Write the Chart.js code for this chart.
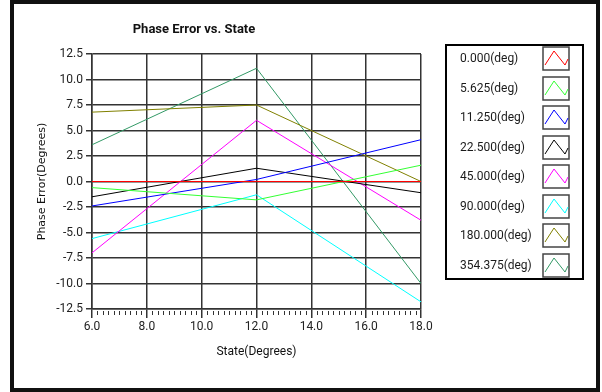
<!DOCTYPE html>
<html>
<head>
<meta charset="utf-8">
<script src="https://cdn.jsdelivr.net/npm/chart.js@4/dist/chart.umd.min.js"></script>
<style>
  html, body { margin: 0; padding: 0; background: #fff; }
  canvas { display: block; }
</style>
</head>
<body>
<canvas id="phaseChart" width="602" height="392"></canvas>
<script>
// state (x) positions
const states = [6.0, 12.0, 18.0];

// phase error per state, one array per phase setting
const ph0000 = [0.0, 0.0, 0.0];
const ph5625 = [-0.6, -1.8, 1.6];
const ph11250 = [-2.4, 0.2, 4.1];
const ph22500 = [-1.5, 1.3, -1.1];
const ph45000 = [-7.0, 6.0, -3.8];
const ph90000 = [-5.6, -1.3, -11.8];
const ph180000 = [6.8, 7.5, 0.0];
const ph354375 = [3.6, 11.1, -10.0];

const seriesNames = ["0.000(deg)", "5.625(deg)", "11.250(deg)", "22.500(deg)",
  "45.000(deg)", "90.000(deg)", "180.000(deg)", "354.375(deg)"];
const seriesValues = [ph0000, ph5625, ph11250, ph22500, ph45000, ph90000, ph180000, ph354375];
const seriesColors = ["#ff0000", "#33ff33", "#0000ff", "#000000",
  "#ff00ff", "#00ffff", "#808000", "#339966"];

const datasets = seriesNames.map((name, i) => ({
  label: name,
  data: states.map((s, j) => ({ x: s, y: seriesValues[i][j] })),
  borderColor: seriesColors[i],
  borderWidth: 1,
  pointRadius: 0,
  tension: 0,
  fill: false
}));

// white page, outer frame, title, minor ticks and the boxed legend
const decorations = {
  id: "decorations",
  beforeDraw(chart) {
    const ctx = chart.ctx;
    ctx.save();
    ctx.fillStyle = "#fff";
    ctx.fillRect(0, 0, chart.width, chart.height);
    ctx.restore();
  },
  afterDraw(chart) {
    const ctx = chart.ctx;
    const xs = chart.scales.x;
    const area = chart.chartArea;
    ctx.save();

    // outer frame
    ctx.strokeStyle = "#111";
    ctx.lineWidth = 4;
    ctx.strokeRect(12, 2, 586, 388);

    // title
    ctx.fillStyle = "#111";
    ctx.font = "bold 13px Roboto";
    ctx.textAlign = "center";
    ctx.textBaseline = "middle";
    ctx.fillText("Phase Error vs. State", 194, 30);

    // minor ticks on the x axis
    ctx.strokeStyle = "#333";
    ctx.lineWidth = 1;
    for (let i = 1; i < 60; i++) {
      if (i % 10 === 0) continue;
      const px = Math.round(xs.getPixelForValue(6 + i * 0.2)) + 0.5;
      ctx.beginPath();
      ctx.moveTo(px, area.bottom + 2);
      ctx.lineTo(px, area.bottom + 6);
      ctx.stroke();
    }

    // legend
    ctx.strokeStyle = "#000";
    ctx.lineWidth = 2;
    ctx.strokeRect(446, 45, 137, 234);
    ctx.font = "12px Roboto";
    ctx.textAlign = "left";
    chart.data.datasets.forEach((ds, i) => {
      const top = 47 + i * 29.5;
      const cy = top + 12;
      ctx.fillStyle = "#1a1a1a";
      ctx.fillText(ds.label, 460, cy);
      const bx = 543, by = Math.round(top);
      ctx.strokeStyle = "#444";
      ctx.lineWidth = 1.5;
      ctx.strokeRect(bx, by, 26, 23);
      ctx.strokeStyle = ds.borderColor;
      ctx.lineWidth = 1;
      ctx.beginPath();
      ctx.moveTo(bx + 2, by + 18);
      ctx.lineTo(bx + 11, by + 4);
      ctx.lineTo(bx + 22, by + 18);
      ctx.lineTo(bx + 25, by + 12);
      ctx.stroke();
    });
    ctx.restore();
  }
};

new Chart(document.getElementById("phaseChart"), {
  type: "line",
  data: { datasets: datasets },
  options: {
    responsive: false,
    animation: false,
    layout: { padding: { left: 28, top: 54, right: 181, bottom: 30 } },
    plugins: {
      legend: { display: false },
      title: { display: false },
      tooltip: { enabled: false }
    },
    scales: {
      x: {
        type: "linear",
        min: 6,
        max: 18,
        afterFit: (scale) => { scale.height = 53; },
        ticks: {
          stepSize: 2,
          padding: 2,
          color: "#222",
          font: { family: "Roboto", size: 12 },
          callback: (v) => Number(v).toFixed(1)
        },
        grid: { color: "#333", lineWidth: 1.5, tickLength: 9, tickColor: "#333" },
        border: { color: "#333", width: 1.5 },
        title: {
          display: true,
          text: "State(Degrees)",
          color: "#111",
          font: { family: "Roboto", size: 12 },
          padding: { top: 0, bottom: 3 }
        }
      },
      y: {
        min: -12.5,
        max: 12.5,
        afterFit: (scale) => { scale.width = 64; },
        ticks: {
          stepSize: 2.5,
          padding: 3,
          color: "#222",
          font: { family: "Roboto", size: 12 },
          callback: (v) => Number(v).toFixed(1)
        },
        grid: { color: "#333", lineWidth: 1.5, tickLength: 6, tickColor: "#333" },
        border: { color: "#333", width: 1.5 },
        title: {
          display: true,
          text: "Phase Error(Degrees)",
          color: "#111",
          font: { family: "DejaVu Sans", size: 11 },
          padding: { top: 8, bottom: 0 }
        }
      }
    }
  },
  plugins: [decorations]
});
</script>
</body>
</html>
